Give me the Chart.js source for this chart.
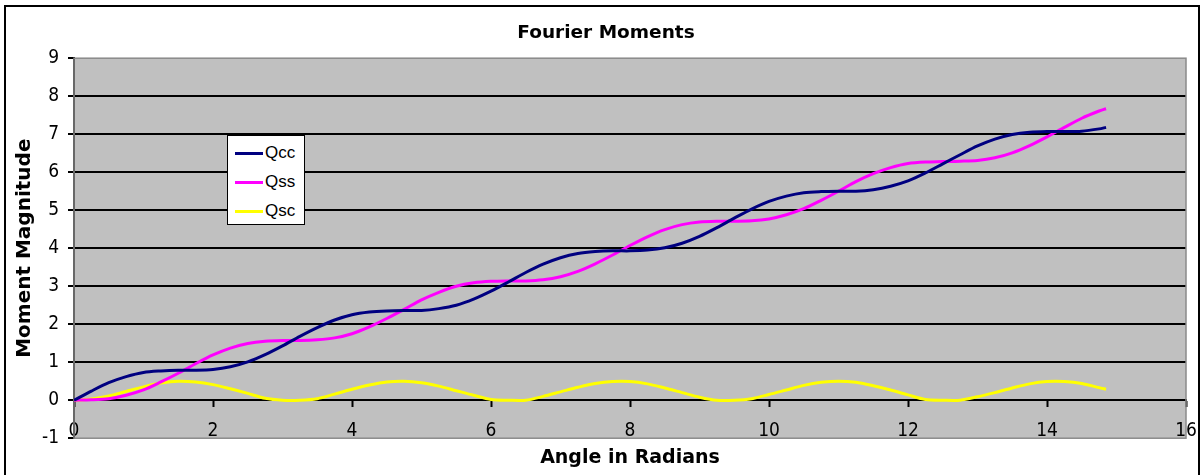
<!DOCTYPE html>
<html>
<head>
<meta charset="utf-8">
<script src="https://cdn.jsdelivr.net/npm/chart.js@4"></script>
<style>
  body { margin: 0; background: #fff; }
  #wrap { position: relative; width: 1202px; height: 475px; overflow: hidden; }
  #frame { position: absolute; left: 4px; top: 5px; width: 1196px; height: 480px; border: 2px solid #000; box-sizing: border-box; pointer-events: none; }
  #legend { position: absolute; left: 227px; top: 135px; width: 78px; height: 90px; box-sizing: border-box; border: 1px solid #000; background: #fff; font-family: "Liberation Sans", Arial, sans-serif; font-size: 17px; }
  .row { position: absolute; left: 0; height: 20px; width: 76px; }
  .swatch { position: absolute; left: 7px; top: 9px; width: 28px; height: 3px; }
  .name { position: absolute; left: 37px; top: 0; line-height: 20px; color: #000; }
</style>
</head>
<body>
<div id="wrap">
  <canvas id="chart" width="1202" height="475"></canvas>
  <div id="legend"></div>
  <div id="frame"></div>
</div>
<script>
// angle (radians) and moment values
const angles = [0, 0.25, 0.5, 0.75, 1, 1.25, 1.5, 1.75, 2, 2.25, 2.5, 2.75, 3, 3.25, 3.5, 3.75,
  4, 4.25, 4.5, 4.75, 5, 5.25, 5.5, 5.75, 6, 6.25, 6.5, 6.75, 7, 7.25, 7.5, 7.75,
  8, 8.25, 8.5, 8.75, 9, 9.25, 9.5, 9.75, 10, 10.25, 10.5, 10.75, 11, 11.25, 11.5, 11.75,
  12, 12.25, 12.5, 12.75, 13, 13.25, 13.5, 13.75, 14, 14.25, 14.5, 14.75, 14.85];

const qcc = [0, 0.24, 0.46, 0.62, 0.73, 0.77, 0.79, 0.79, 0.81, 0.88, 1.01, 1.20, 1.43, 1.68, 1.91, 2.11,
  2.25, 2.32, 2.35, 2.36, 2.36, 2.41, 2.50, 2.66, 2.87, 3.11, 3.36, 3.58, 3.75, 3.86, 3.91, 3.93,
  3.93, 3.95, 4.01, 4.13, 4.31, 4.54, 4.79, 5.03, 5.23, 5.37, 5.46, 5.49, 5.50, 5.50, 5.54, 5.63,
  5.77, 5.98, 6.22, 6.46, 6.69, 6.87, 6.99, 7.05, 7.07, 7.07, 7.08, 7.14, 7.18];

const qss = [0, 0.01, 0.04, 0.13, 0.27, 0.48, 0.71, 0.96, 1.19, 1.37, 1.49, 1.55, 1.57, 1.57, 1.59, 1.64,
  1.75, 1.93, 2.15, 2.39, 2.64, 2.84, 3.00, 3.09, 3.13, 3.14, 3.14, 3.17, 3.25, 3.39, 3.59, 3.82,
  4.07, 4.30, 4.49, 4.62, 4.69, 4.71, 4.71, 4.72, 4.77, 4.88, 5.04, 5.26, 5.50, 5.75, 5.96, 6.12,
  6.23, 6.27, 6.28, 6.29, 6.31, 6.38, 6.51, 6.70, 6.93, 7.18, 7.42, 7.61, 7.67];

const qsc = [0, 0.03, 0.11, 0.23, 0.35, 0.45, 0.50, 0.48, 0.41, 0.30, 0.18, 0.05, 0, 0, 0.04, 0.16,
  0.29, 0.40, 0.48, 0.50, 0.46, 0.37, 0.25, 0.13, 0.02, 0, 0, 0.10, 0.22, 0.34, 0.44, 0.49,
  0.49, 0.43, 0.32, 0.20, 0.08, 0, 0, 0.04, 0.15, 0.27, 0.39, 0.47, 0.50, 0.47, 0.38, 0.27,
  0.14, 0.02, 0, 0, 0.09, 0.20, 0.32, 0.43, 0.49, 0.49, 0.44, 0.33, 0.29];

const seriesNames = ["Qcc", "Qss", "Qsc"];
const seriesColors = ["#000080", "#FF00FF", "#FFFF00"];
const seriesValues = [qcc, qss, qsc];

const xTicks = [0, 2, 4, 6, 8, 10, 12, 14, 16];
const yTicks = [-1, 0, 1, 2, 3, 4, 5, 6, 7, 8, 9];

const tickFont = { family: "'Liberation Sans Narrow', 'DejaVu Sans Condensed', sans-serif", size: 19 };
const boldFont = size => ({ family: "'DejaVu Sans', sans-serif", size: size, weight: "bold" });

// gray plot area + its thin border
const plotBg = {
  id: "plotBg",
  beforeDraw(chart) {
    const { ctx, chartArea: a } = chart;
    ctx.save();
    ctx.fillStyle = "#C0C0C0";
    ctx.fillRect(a.left, a.top, a.right - a.left, a.bottom - a.top);
    ctx.restore();
  },
  beforeDatasetsDraw(chart) {
    const { ctx, chartArea: a } = chart;
    ctx.save();
    ctx.strokeStyle = "#8a8a8a";
    ctx.lineWidth = 1.5;
    ctx.strokeRect(a.left, a.top, a.right - a.left, a.bottom - a.top);
    ctx.restore();
  }
};

new Chart(document.getElementById("chart"), {
  type: "line",
  data: {
    datasets: seriesNames.map((name, i) => ({
      label: name,
      data: angles.map((a, j) => ({ x: a, y: seriesValues[i][j] })),
      borderColor: seriesColors[i],
      borderWidth: 3,
      pointRadius: 0,
      tension: 0.3,
      fill: false
    }))
  },
  options: {
    responsive: false,
    animation: false,
    layout: { padding: { left: 26, right: 16, top: 0, bottom: 0 } },
    plugins: {
      legend: { display: false },
      tooltip: { enabled: false },
      title: {
        display: true, text: "Fourier Moments", color: "#000",
        font: boldFont(18.5), padding: { top: 22, bottom: 14 }
      },
      subtitle: {
        display: true, text: "Angle in Radians", color: "#000", position: "bottom", fullSize: false,
        font: boldFont(19), padding: { top: 8, bottom: 6 }
      }
    },
    scales: {
      x: {
        type: "linear", min: 0, max: 16,
        position: { y: 0 },
        afterBuildTicks: s => { s.ticks = xTicks.map(v => ({ value: v })); },
        afterFit: s => { s.paddingLeft = 0; s.paddingRight = 0; },
        ticks: { color: "#000", font: tickFont, padding: 13, maxRotation: 0 },
        grid: { drawOnChartArea: false, drawTicks: true, tickLength: 6, tickColor: "#000", tickWidth: 2 },
        border: { color: "#000", width: 2 }
      },
      y: {
        min: -1, max: 9,
        afterBuildTicks: s => { s.ticks = yTicks.map(v => ({ value: v })); },
        afterFit: s => { s.width = 48; },
        ticks: { color: "#000", font: tickFont, padding: 9 },
        grid: {
          color: c => (c.tick && c.tick.value >= 0 && c.tick.value <= 8) ? "#000" : "rgba(0,0,0,0)",
          lineWidth: 2, drawTicks: true, tickLength: 6, tickColor: "#000", tickWidth: 2
        },
        border: { color: "#000", width: 2 },
        title: {
          display: true, text: "Moment Magnitude", color: "#000",
          font: boldFont(20), padding: { top: -13, bottom: 0 }
        }
      }
    }
  },
  plugins: [plotBg]
});

// legend box built from the series lists
const legend = document.getElementById("legend");
const rowTops = [7, 36, 65];
seriesNames.forEach((name, i) => {
  const row = document.createElement("div");
  row.className = "row";
  row.style.top = rowTops[i] + "px";
  row.innerHTML = `<div class="swatch" style="background:${seriesColors[i]}"></div><div class="name">${name}</div>`;
  legend.appendChild(row);
});
</script>
</body>
</html>
